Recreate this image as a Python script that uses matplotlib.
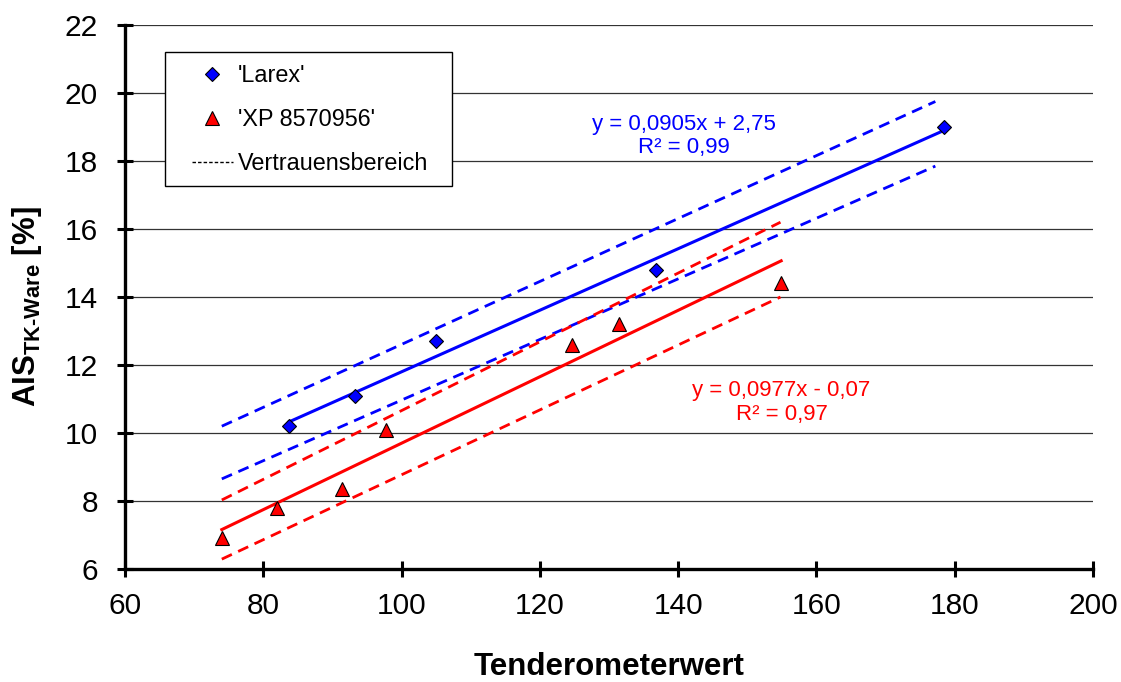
import matplotlib
matplotlib.use("Agg")
import matplotlib.pyplot as plt
from matplotlib.lines import Line2D
from matplotlib.patches import Rectangle

plt.rcParams['font.family'] = ['Liberation Sans', 'DejaVu Sans']
plt.rcParams['mathtext.fontset'] = 'custom'
plt.rcParams['mathtext.rm'] = 'Liberation Sans:bold'
plt.rcParams['mathtext.bf'] = 'Liberation Sans:bold'

# Measurements
larex_x = [83.7, 93.3, 105.0, 136.8, 178.5]
larex_y = [10.2, 11.1, 12.7, 14.8, 19.0]
xp_x = [74.0, 82.0, 91.4, 97.7, 124.7, 131.4, 154.9]
xp_y = [6.9, 7.8, 8.35, 10.1, 12.6, 13.2, 14.4]

# Regression coefficients (slope, intercept) and R²
larex_fit = (0.0905, 2.75)
xp_fit = (0.0977, -0.07)
larex_r2 = "0,99"
xp_r2 = "0,97"

# Confidence band end points
larex_band_x = [74.0, 177.2]
larex_band_upper = [10.2, 19.75]
larex_band_lower = [8.65, 17.85]
xp_band_x = [74.0, 154.8]
xp_band_upper = [8.03, 16.2]
xp_band_lower = [6.29, 14.0]

x_ticks = [60, 80, 100, 120, 140, 160, 180, 200]
y_ticks = [6, 8, 10, 12, 14, 16, 18, 20, 22]

blue = '#0000FF'
red = '#FF0000'

W, H = 1121, 682
fig = plt.figure(figsize=(W / 100, H / 100), dpi=100)
ax = fig.add_axes([125 / W, 1 - 569 / H, 968 / W, 544 / H])

ax.set_xlim(60, 200)
ax.set_ylim(6, 22)
ax.set_xticks(x_ticks)
ax.set_yticks(y_ticks)
ax.yaxis.grid(True, color='#333333', linewidth=0.9)
ax.set_axisbelow(True)

for s in ['top', 'right']:
    ax.spines[s].set_visible(False)
for s in ['left', 'bottom']:
    ax.spines[s].set_linewidth(2.4)
ax.tick_params(direction='inout', length=11, width=2.2, labelsize=21.5)
ax.tick_params(axis='x', pad=11)
ax.tick_params(axis='y', pad=14)


def fit_line(fit, xs):
    m, b = fit
    return [m * x + b for x in xs]


dash = (0, (4, 2.5))
# Confidence bands
ax.plot(larex_band_x, larex_band_upper, color=blue, lw=2, ls=dash)
ax.plot(larex_band_x, larex_band_lower, color=blue, lw=2, ls=dash)
ax.plot(xp_band_x, xp_band_upper, color=red, lw=2, ls=dash)
ax.plot(xp_band_x, xp_band_lower, color=red, lw=2, ls=dash)

# Trend lines
lx = [min(larex_x), max(larex_x)]
ax.plot(lx, fit_line(larex_fit, lx), color=blue, lw=2.2)
rx = [min(xp_x), max(xp_x)]
ax.plot(rx, fit_line(xp_fit, rx), color=red, lw=2.2)

# Data points
ax.plot(larex_x, larex_y, ls='none', marker='D', ms=7, mfc=blue, mec='black', mew=0.8)
ax.plot(xp_x, xp_y, ls='none', marker='^', ms=9.5, mfc=red, mec='black', mew=0.8)

# Equations
ax.text(140.9, 18.74, "y = 0,0905x + 2,75\nR² = " + larex_r2, color=blue,
        fontsize=16, ha='center', va='center', linespacing=1.15)
ax.text(154.95, 10.9, "y = 0,0977x - 0,07\nR² = " + xp_r2, color=red,
        fontsize=16, ha='center', va='center', linespacing=1.15)

ax.set_xlabel("Tenderometerwert", fontsize=22.5, fontweight='bold', labelpad=23)
ax.set_ylabel(r"AIS$_{\text{TK-Ware}}$ [%]", fontsize=22.5, fontweight='bold')
ax.yaxis.set_label_coords(-0.084, 0.482)

# Legend frame
frame = Rectangle((165 / W, 1 - 186 / H), 287 / W, 134 / H, transform=fig.transFigure,
                  facecolor='white', edgecolor='black', linewidth=1.0, zorder=4,
                  clip_on=False)
ax.add_patch(frame)

handles = [
    Line2D([], [], ls='none', marker='D', ms=7, mfc=blue, mec='black', mew=0.8),
    Line2D([], [], ls='none', marker='^', ms=9.5, mfc=red, mec='black', mew=0.8),
    Line2D([], [], color='black', lw=1, ls=(0, (2.5, 1.5))),
]
leg = ax.legend(handles, ["'Larex'", "'XP 8570956'", "Vertrauensbereich"],
                loc='upper left', bbox_to_anchor=(192 / W, 1 - 64 / H),
                bbox_transform=fig.transFigure, fontsize=16.8, frameon=False,
                handlelength=1.75, handletextpad=0.22, labelspacing=0.9,
                borderpad=0, borderaxespad=0)
leg.set_zorder(5)

fig.savefig("out.png", dpi=100, facecolor='white')
